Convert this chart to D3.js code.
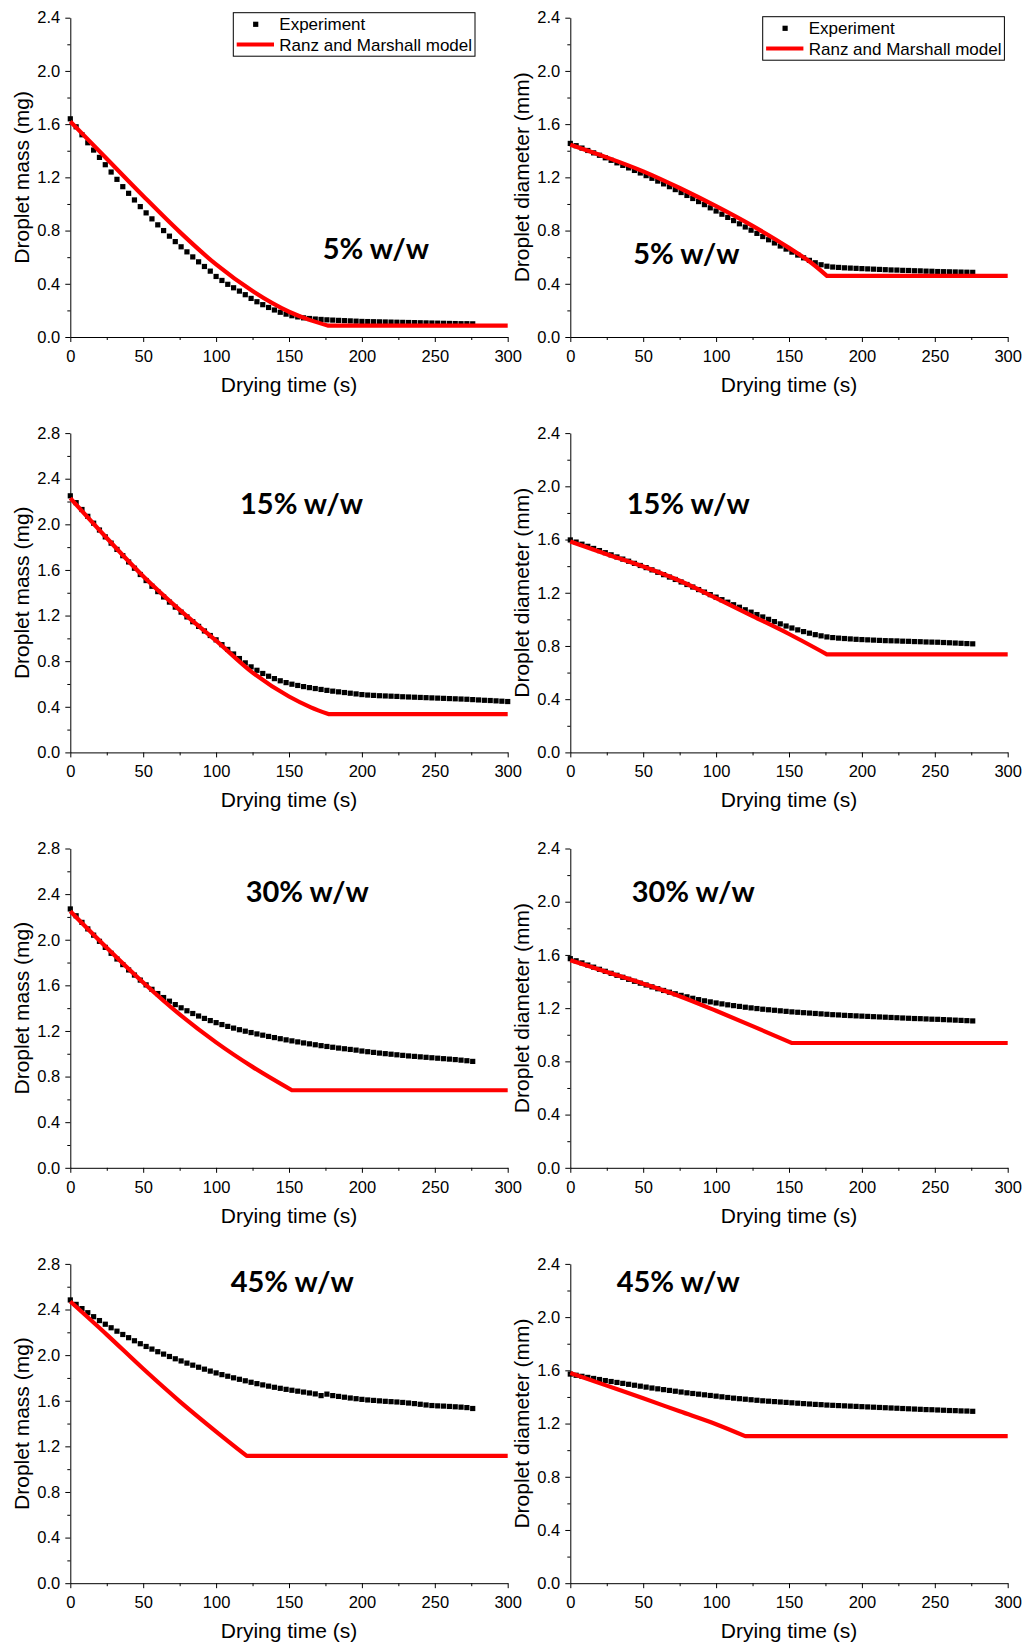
<!DOCTYPE html>
<html>
<head>
<meta charset="utf-8">
<script src="https://cdn.jsdelivr.net/npm/d3@7"></script>
<style>
  body { margin: 0; background: #fff; }
  svg text { font-family: "Liberation Sans", Arial, sans-serif; fill: #000; }
  .tag { font-family: Lato, "Open Sans", sans-serif; font-weight: bold; }
</style>
</head>
<body>
<svg id="frame"></svg>
<script>
// sampling times of the experiment (s)
const times = [0,4,8,12,16,20,24,28,32,36,40,44,48,52,56,60,64,68,72,76,80,84,88,92,96,100,
  104,108,112,116,120,124,128,132,136,140,144,148,152,156,160,164,168,172,176,180,184,188,192,196,200,
  204,208,212,216,220,224,228,232,236,240,244,248,252,256,260,264,268,272,276,280,284,288,292,296,300];

// experiment series
const massExp5 = [1.64,1.58,1.52,1.46,1.405,1.35,1.295,1.24,1.185,1.13,1.08,1.03,0.98,0.933,0.888,0.843,0.80,0.758,0.717,0.678,
  0.64,0.602,0.565,0.53,0.495,0.455,0.425,0.396,0.37,0.345,0.318,0.29,0.265,0.243,0.222,0.203,0.186,0.172,0.16,0.151,
  0.144,0.139,0.135,0.132,0.129,0.127,0.125,0.123,0.121,0.119,0.117,0.116,0.115,0.114,0.113,0.112,0.111,0.11,0.109,0.108,
  0.107,0.106,0.105,0.104,0.103,0.102,0.101,0.1,0.1,0.099];
const diaExp5 = [1.455,1.438,1.42,1.402,1.384,1.366,1.347,1.328,1.309,1.29,1.271,1.252,1.233,1.213,1.193,1.172,1.151,1.13,1.108,1.086,
  1.064,1.041,1.018,0.995,0.971,0.947,0.923,0.899,0.875,0.851,0.827,0.803,0.779,0.755,0.731,0.707,0.684,0.661,0.638,0.616,
  0.595,0.576,0.558,0.543,0.532,0.526,0.523,0.52,0.518,0.516,0.514,0.512,0.51,0.508,0.506,0.504,0.503,0.501,0.5,0.498,
  0.497,0.495,0.494,0.492,0.491,0.49,0.489,0.488,0.487,0.486];
const massExp15 = [2.25,2.19,2.13,2.07,2.01,1.95,1.89,1.835,1.78,1.725,1.67,1.615,1.56,1.507,1.457,1.41,1.363,1.318,1.274,1.23,
  1.188,1.146,1.105,1.065,1.025,0.987,0.945,0.903,0.863,0.823,0.785,0.75,0.72,0.692,0.668,0.647,0.628,0.612,0.598,0.587,
  0.577,0.568,0.56,0.552,0.544,0.537,0.531,0.525,0.519,0.513,0.507,0.503,0.5,0.497,0.495,0.493,0.491,0.488,0.486,0.484,
  0.482,0.48,0.478,0.476,0.474,0.472,0.47,0.468,0.466,0.463,0.46,0.457,0.455,0.452,0.449,0.446];
const diaExp15 = [1.597,1.581,1.565,1.549,1.533,1.517,1.501,1.485,1.469,1.453,1.437,1.421,1.405,1.389,1.372,1.354,1.336,1.318,1.3,1.281,
  1.262,1.243,1.224,1.205,1.186,1.167,1.148,1.129,1.11,1.091,1.072,1.054,1.036,1.018,1.0,0.983,0.966,0.95,0.935,0.921,
  0.908,0.896,0.885,0.876,0.868,0.863,0.859,0.856,0.853,0.85,0.848,0.846,0.844,0.842,0.84,0.839,0.838,0.836,0.835,0.833,
  0.832,0.83,0.829,0.828,0.826,0.824,0.822,0.82,0.818,0.816];
const massExp30 = [2.27,2.21,2.152,2.095,2.04,1.986,1.933,1.881,1.831,1.782,1.735,1.69,1.646,1.604,1.565,1.528,1.493,1.461,1.431,1.403,
  1.377,1.353,1.331,1.31,1.291,1.273,1.256,1.24,1.225,1.211,1.198,1.186,1.174,1.163,1.152,1.142,1.132,1.122,1.113,1.104,
  1.095,1.087,1.079,1.071,1.064,1.057,1.05,1.044,1.038,1.032,1.024,1.018,1.012,1.006,1.001,0.996,0.991,0.986,0.981,0.977,
  0.973,0.969,0.965,0.961,0.957,0.953,0.949,0.944,0.939,0.933];
const diaExp30 = [1.572,1.556,1.54,1.524,1.508,1.492,1.477,1.462,1.447,1.432,1.417,1.402,1.388,1.374,1.36,1.346,1.333,1.32,1.308,1.296,
  1.285,1.274,1.264,1.255,1.247,1.239,1.232,1.225,1.219,1.213,1.207,1.202,1.197,1.192,1.188,1.184,1.18,1.176,1.172,1.169,
  1.166,1.163,1.16,1.157,1.154,1.151,1.149,1.146,1.144,1.142,1.14,1.138,1.136,1.134,1.132,1.13,1.128,1.126,1.124,1.122,
  1.121,1.119,1.117,1.116,1.114,1.112,1.11,1.108,1.106,1.104];
const massExp45 = [2.484,2.445,2.408,2.372,2.337,2.303,2.271,2.24,2.21,2.181,2.153,2.126,2.1,2.076,2.053,2.03,2.009,1.988,1.968,1.949,
  1.93,1.912,1.894,1.877,1.86,1.844,1.829,1.815,1.801,1.788,1.775,1.762,1.75,1.739,1.728,1.718,1.709,1.7,1.692,1.684,
  1.676,1.668,1.66,1.645,1.658,1.645,1.638,1.631,1.624,1.618,1.612,1.607,1.603,1.599,1.595,1.592,1.589,1.585,1.58,1.575,
  1.569,1.563,1.558,1.555,1.553,1.55,1.547,1.544,1.54,1.532];
const diaExp45 = [1.572,1.563,1.555,1.547,1.539,1.531,1.523,1.516,1.509,1.502,1.495,1.488,1.481,1.474,1.467,1.461,1.455,1.449,1.443,1.437,
  1.431,1.426,1.421,1.416,1.411,1.406,1.401,1.396,1.391,1.387,1.383,1.379,1.375,1.371,1.368,1.365,1.362,1.359,1.356,1.353,
  1.35,1.347,1.344,1.342,1.339,1.337,1.335,1.333,1.331,1.329,1.327,1.325,1.323,1.321,1.319,1.317,1.315,1.313,1.311,1.309,
  1.307,1.305,1.304,1.302,1.3,1.298,1.297,1.295,1.294,1.292];

// Ranz and Marshall model: falling part (time, value), then flat level to 300 s
const massModelT5 = [0,25,50,75,100,125,150,165,177];
const massModelV5 = [1.62,1.34,1.06,0.79,0.545,0.345,0.19,0.125,0.085];
const diaModelT5 = [0,25,50,75,100,125,150,165,176];
const diaModelV5 = [1.445,1.35,1.245,1.12,0.983,0.835,0.67,0.56,0.46];
const massModelT15 = [0,25,50,75,100,125,150,165,177];
const massModelV15 = [2.23,1.88,1.545,1.25,0.98,0.70,0.49,0.395,0.336];
const diaModelT15 = [0,25,50,75,100,125,150,176];
const diaModelV15 = [1.585,1.49,1.397,1.29,1.16,1.025,0.89,0.737];
const massModelT30 = [0,25,50,75,100,125,152];
const massModelV30 = [2.25,1.93,1.625,1.345,1.10,0.885,0.68];
const diaModelT30 = [0,25,50,75,100,125,152];
const diaModelV30 = [1.56,1.472,1.384,1.29,1.18,1.065,0.938];
const massModelT45 = [0,25,50,75,100,121];
const massModelV45 = [2.47,2.18,1.88,1.595,1.33,1.116];
const diaModelT45 = [0,25,50,75,100,120];
const diaModelV45 = [1.58,1.485,1.39,1.292,1.195,1.105];

const xTicks = [0, 50, 100, 150, 200, 250, 300];
const xMinor = [25, 75, 125, 175, 225, 275];
const yTicks24 = [0, 0.4, 0.8, 1.2, 1.6, 2.0, 2.4];
const yTicks28 = [0, 0.4, 0.8, 1.2, 1.6, 2.0, 2.4, 2.8];
const legendNames = ['Experiment', 'Ranz and Marshall model'];
const xTitle = 'Drying time (s)';
const massTitle = 'Droplet mass (mg)';
const diaTitle = 'Droplet diameter (mm)';

// -------------------
const width = 1030;
const height = 1648;
const plotW = 437.4, plotH = 319.3;
const left0 = 70.3, colStep = 500;
const top0 = 17.7, rowStep = 415.4;

const svg = d3.select('#frame')
  .attr('width', width)
  .attr('height', height);

const panels = [
  {row: 0, col: 0, yTicks: yTicks24, yTitle: massTitle, exp: massExp5, mt: massModelT5, mv: massModelV5, tag: '5% w/w', tagAt: [252.4, 241.3], legendAt: [163, -5]},
  {row: 0, col: 1, yTicks: yTicks24, yTitle: diaTitle, exp: diaExp5, mt: diaModelT5, mv: diaModelV5, tag: '5% w/w', tagAt: [63, 246.3], legendAt: [192.4, -1]},
  {row: 1, col: 0, yTicks: yTicks28, yTitle: massTitle, exp: massExp15, mt: massModelT15, mv: massModelV15, tag: '15% w/w', tagAt: [169.7, 80.7]},
  {row: 1, col: 1, yTicks: yTicks24, yTitle: diaTitle, exp: diaExp15, mt: diaModelT15, mv: diaModelV15, tag: '15% w/w', tagAt: [56.4, 80.7]},
  {row: 2, col: 0, yTicks: yTicks28, yTitle: massTitle, exp: massExp30, mt: massModelT30, mv: massModelV30, tag: '30% w/w', tagAt: [175.4, 53.4]},
  {row: 2, col: 1, yTicks: yTicks24, yTitle: diaTitle, exp: diaExp30, mt: diaModelT30, mv: diaModelV30, tag: '30% w/w', tagAt: [61.4, 53.4]},
  {row: 3, col: 0, yTicks: yTicks28, yTitle: massTitle, exp: massExp45, mt: massModelT45, mv: massModelV45, tag: '45% w/w', tagAt: [160.4, 27.7]},
  {row: 3, col: 1, yTicks: yTicks24, yTitle: diaTitle, exp: diaExp45, mt: diaModelT45, mv: diaModelV45, tag: '45% w/w', tagAt: [46.4, 27.7]}
];

panels.forEach(drawPanel);

function drawPanel(p) {
  const g = svg.append('g')
    .attr('transform', `translate(${left0 + p.col * colStep},${top0 + p.row * rowStep})`);

  const yMax = p.yTicks[p.yTicks.length - 1];
  const xScale = d3.scaleLinear().domain([0, 300]).range([0, plotW]);
  const yScale = d3.scaleLinear().domain([0, yMax]).range([plotH, 0]);

  // minor ticks
  const yMinor = p.yTicks.slice(0, -1).map(v => +(v + 0.2).toFixed(1));
  g.append('g').attr('class', 'minor')
    .attr('transform', `translate(0,${plotH})`)
    .call(d3.axisBottom(xScale).tickValues(xMinor).tickSize(3).tickFormat(''));
  g.append('g').attr('class', 'minor')
    .call(d3.axisLeft(yScale).tickValues(yMinor).tickSize(3).tickFormat(''));
  g.selectAll('.minor .domain').remove();

  // main axes
  const xaxis = d3.axisBottom(xScale).tickValues(xTicks).tickSize(5).tickSizeOuter(0).tickPadding(8);
  const yaxis = d3.axisLeft(yScale).tickValues(p.yTicks).tickSize(5).tickSizeOuter(0).tickPadding(5)
    .tickFormat(d3.format('.1f'));
  g.append('g').attr('class', 'axis').attr('transform', `translate(0,${plotH})`).call(xaxis);
  g.append('g').attr('class', 'axis').call(yaxis);
  g.selectAll('.axis text').style('font-size', '16.5px').attr('fill', '#000');
  g.selectAll('.domain, .tick line').attr('stroke', '#000').attr('stroke-width', 1);

  // titles
  g.append('text')
    .attr('x', plotW / 2).attr('y', plotH + 54.7)
    .attr('text-anchor', 'middle')
    .style('font-size', '21px')
    .text(xTitle);
  g.append('text')
    .attr('transform', `translate(-41.8,${plotH / 2}) rotate(-90)`)
    .attr('text-anchor', 'middle')
    .style('font-size', '21px')
    .text(p.yTitle);

  // experiment squares
  const pts = p.exp.map((v, i) => ({x: times[i], y: v}));
  const sz = 5.2;
  g.selectAll('rect.exp').data(pts).enter()
    .append('rect')
    .attr('class', 'exp')
    .attr('x', d => xScale(d.x) - sz / 2)
    .attr('y', d => yScale(d.y) - sz / 2)
    .attr('width', sz)
    .attr('height', sz)
    .attr('fill', '#000');

  // model line: smooth falling part, then straight plateau
  const model = p.mt.map((t, i) => ({x: t, y: p.mv[i]}));
  const last = model[model.length - 1];
  const curve = d3.line().x(d => xScale(d.x)).y(d => yScale(d.y)).curve(d3.curveMonotoneX)(model);
  const flat = `L${xScale(300)},${yScale(last.y)}`;
  g.append('path')
    .attr('d', curve + flat)
    .attr('fill', 'none')
    .attr('stroke', '#ff0000')
    .attr('stroke-width', 4.2)
    .attr('stroke-linejoin', 'round');

  // concentration tag
  g.append('text')
    .attr('class', 'tag')
    .attr('x', p.tagAt[0]).attr('y', p.tagAt[1])
    .style('font-size', '29px')
    .text(p.tag);

  if (p.legendAt) drawLegend(g, p.legendAt);
}

function drawLegend(g, at) {
  const lg = g.append('g').attr('transform', `translate(${at[0]},${at[1]})`);
  lg.append('rect')
    .attr('width', 241.7).attr('height', 43.5)
    .attr('fill', '#fff').attr('stroke', '#000').attr('stroke-width', 1);
  lg.append('rect')
    .attr('x', 22.4 - 2.6).attr('y', 11.6 - 2.6)
    .attr('width', 5.2).attr('height', 5.2)
    .attr('fill', '#000');
  lg.append('line')
    .attr('x1', 3.4).attr('x2', 40.7)
    .attr('y1', 31.8).attr('y2', 31.8)
    .attr('stroke', '#ff0000').attr('stroke-width', 4.2);
  lg.selectAll('text.lgd').data(legendNames).enter()
    .append('text')
    .attr('class', 'lgd')
    .attr('x', 46)
    .attr('y', (d, i) => 17.8 + i * 20.2)
    .style('font-size', '17px')
    .text(d => d);
}
</script>
</body>
</html>
